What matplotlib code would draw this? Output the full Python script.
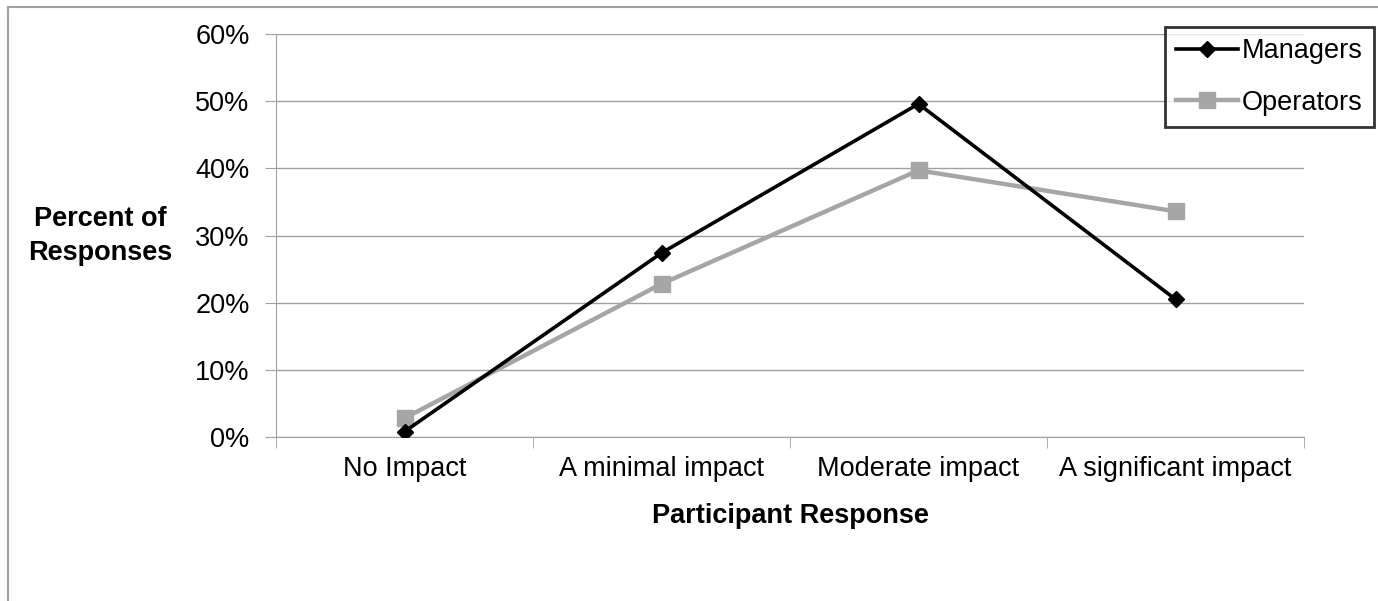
#!/usr/bin/env python

import numpy as np
import matplotlib.pyplot as plt
from matplotlib.lines import Line2D
from matplotlib.ticker import FuncFormatter, FixedLocator

plt.rcParams['font.family'] = ['Liberation Sans', 'DejaVu Sans']

categories = ["No Impact", "A minimal impact", "Moderate impact", "A significant impact"]
managers = [0.8, 27.4, 49.6, 20.5]
operators = [2.8, 22.8, 39.7, 33.6]
y_ticks = [0, 10, 20, 30, 40, 50, 60]

grid_col = "#a0a0a0"
fs = 19.5

fig = plt.figure(figsize=(13.78, 6.01), dpi=100)
ax = fig.add_axes([0.2003, 0.2729, 0.746, 0.6705])

x = np.arange(len(categories))
ax.plot(x, managers, color="black", lw=2.6, marker="D", ms=8, label="Managers", zorder=4)
ax.plot(x, operators, color="#a6a6a6", lw=3.2, marker="s", ms=11, label="Operators", zorder=3)

ax.set_xlim(-0.5, len(categories) - 0.5)
ax.set_ylim(0, 60)
ax.set_yticks(y_ticks)
ax.yaxis.set_major_formatter(FuncFormatter(lambda v, p: "%d%%" % v))
ax.grid(axis="y", color=grid_col, lw=1)
ax.set_axisbelow(True)

# category labels between boundary ticks
ax.set_xticks(x)
ax.set_xticklabels(categories, fontsize=fs)
ax.tick_params(axis="x", which="major", length=0, pad=14)
ax.xaxis.set_minor_locator(FixedLocator(np.arange(-0.5, len(categories), 1.0)))
ax.tick_params(axis="x", which="minor", length=8, color=grid_col, direction="out")
ax.tick_params(axis="y", length=8, color=grid_col, labelsize=fs, pad=11)

for s in ["top", "right"]:
  ax.spines[s].set_visible(False)
for s in ["left", "bottom"]:
  ax.spines[s].set_color(grid_col)

ax.set_xlabel("Participant Response", fontsize=fs, fontweight="bold", labelpad=15)
fig.text(100/1378, 1 - 236/601, "Percent of\nResponses", fontsize=fs, fontweight="bold",
         ha="center", va="center", linespacing=1.35)

leg = ax.legend(loc="upper right", bbox_to_anchor=(1.068, 1.017), fontsize=fs,
                frameon=True, fancybox=False, edgecolor="black", handlelength=2.3,
                handletextpad=0.15, labelspacing=0.95, borderpad=0.4, borderaxespad=0)
leg.get_frame().set_linewidth(2)

# outer frame, partly cut off at right and bottom
fig.add_artist(Line2D([8/1378, 8/1378], [0, 1 - 7/601], color=grid_col, lw=1.5, transform=fig.transFigure))
fig.add_artist(Line2D([8/1378, 1], [1 - 7/601, 1 - 7/601], color=grid_col, lw=1.5, transform=fig.transFigure))

fig.savefig("out.png", dpi=100)
